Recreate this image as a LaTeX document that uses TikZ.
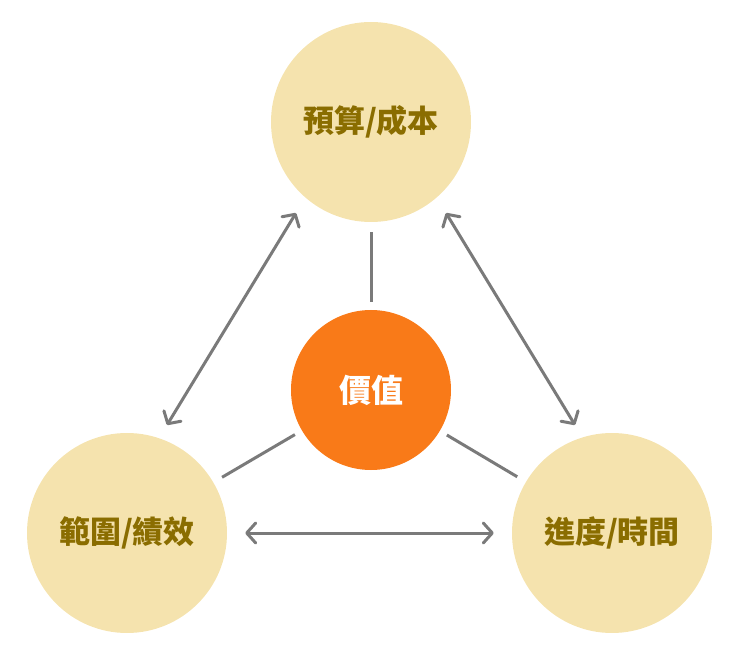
\documentclass[tikz,border=0pt]{standalone}
\usepackage{fontspec}
\setmainfont{Noto Sans CJK TC}
\usetikzlibrary{arrows.meta}
\definecolor{cfill}{HTML}{F5E3AE}
\definecolor{ctext}{HTML}{8A6D00}
\definecolor{corange}{HTML}{F97A18}
\definecolor{cline}{HTML}{7A7A7A}
\tikzset{
  big/.style={circle,fill=cfill,minimum size=200pt,inner sep=0pt,text=ctext,font=\bfseries\fontsize{31}{35}\selectfont},
  mid/.style={circle,fill=corange,minimum size=160pt,inner sep=0pt,text=white,font=\bfseries\fontsize{32}{36}\selectfont},
  conn/.style={cline,line width=3pt},
  arr/.style={conn,line cap=round,{Straight Barb[length=9pt,width=20pt,line cap=round,line join=round]}-{Straight Barb[length=9pt,width=20pt,line cap=round,line join=round]}}
}
\begin{document}
\begin{tikzpicture}[x=1pt,y=-1pt]
\useasboundingbox (0,0) rectangle (740,655);
\node[big] (t) at (371,122) {預算/成本};
\node[big] (l) at (127,533) {範圍/績效};
\node[big] (r) at (612,533) {進度/時間};
\node[mid] (c) at (371,390) {價值};
\coordinate (a1) at (296,213);
\coordinate (a2) at (167,425);
\coordinate (b1) at (446,213);
\coordinate (b2) at (575,425);
\draw[conn,shorten <=8pt,shorten >=10pt] (c) -- (t);
\draw[conn,shorten <=8pt,shorten >=10pt] (c) -- (l);
\draw[conn,shorten <=8pt,shorten >=10pt] (c) -- (r);
\draw[arr] (a1) -- (a2);
\draw[arr] (b1) -- (b2);
\draw[arr,shorten <=18pt,shorten >=18pt] (l) -- (r);
\end{tikzpicture}
\end{document}
